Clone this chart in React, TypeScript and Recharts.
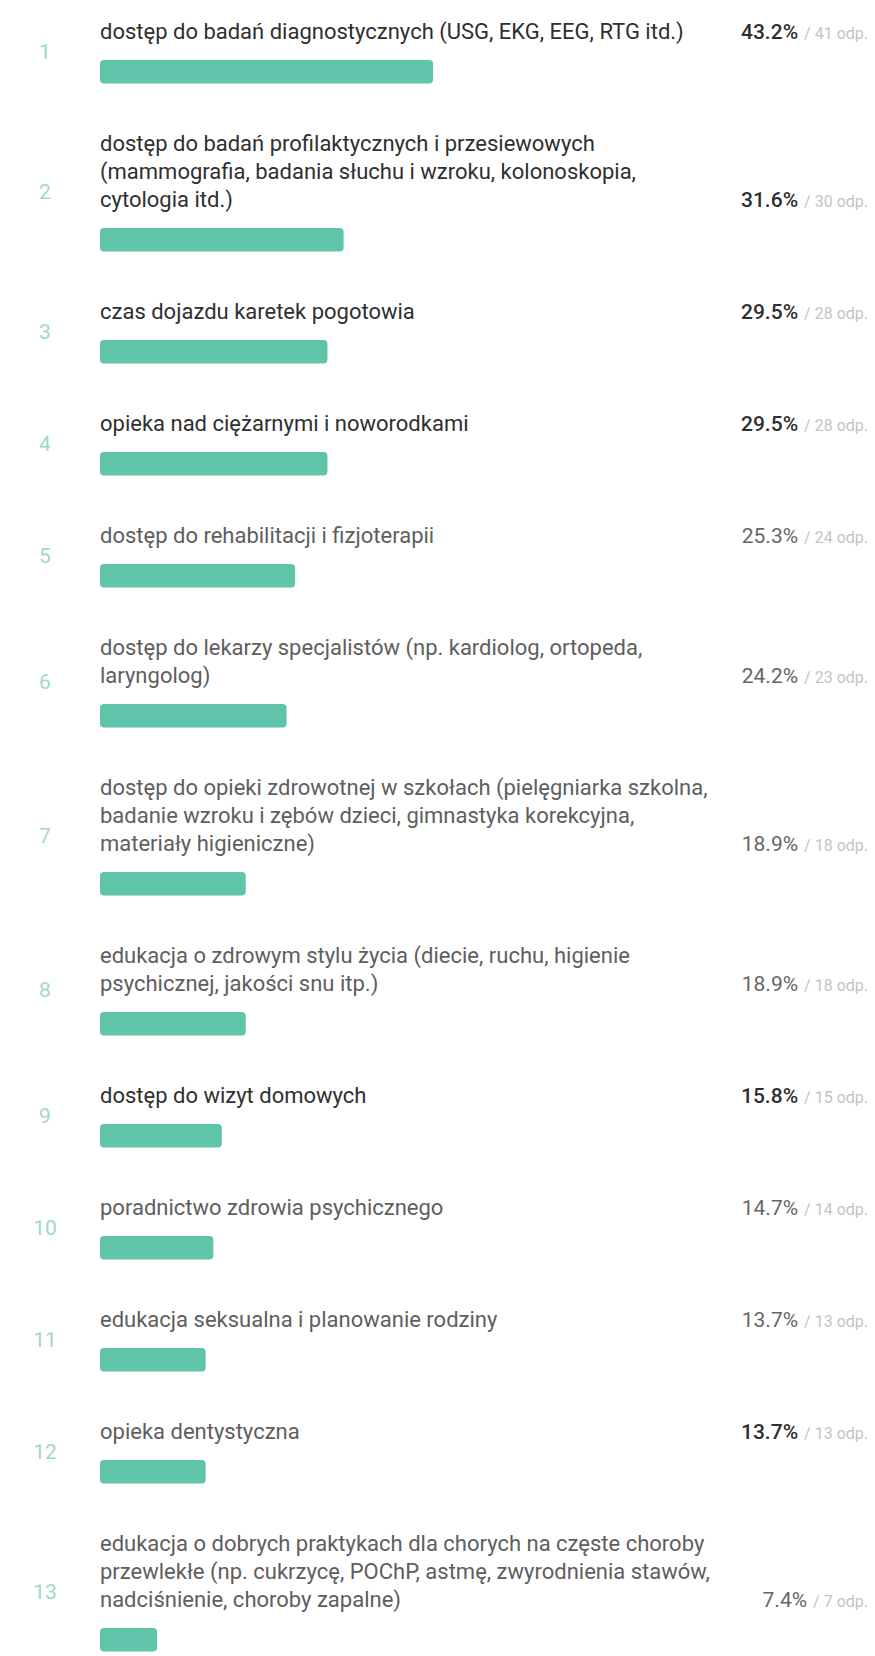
import React from 'react';
import { BarChart, Bar, XAxis, YAxis } from 'recharts';

// ---- data ----
const categories: string[] = [
  'dostęp do badań diagnostycznych (USG, EKG, EEG, RTG itd.)',
  'dostęp do badań profilaktycznych i przesiewowych\n(mammografia, badania słuchu i wzroku, kolonoskopia,\ncytologia itd.)',
  'czas dojazdu karetek pogotowia',
  'opieka nad ciężarnymi i noworodkami',
  'dostęp do rehabilitacji i fizjoterapii',
  'dostęp do lekarzy specjalistów (np. kardiolog, ortopeda,\nlaryngolog)',
  'dostęp do opieki zdrowotnej w szkołach (pielęgniarka szkolna,\nbadanie wzroku i zębów dzieci, gimnastyka korekcyjna,\nmateriały higieniczne)',
  'edukacja o zdrowym stylu życia (diecie, ruchu, higienie\npsychicznej, jakości snu itp.)',
  'dostęp do wizyt domowych',
  'poradnictwo zdrowia psychicznego',
  'edukacja seksualna i planowanie rodziny',
  'opieka dentystyczna',
  'edukacja o dobrych praktykach dla chorych na częste choroby\nprzewlekłe (np. cukrzycę, POChP, astmę, zwyrodnienia stawów,\nnadciśnienie, choroby zapalne)',
];
const percentages: number[] = [43.2, 31.6, 29.5, 29.5, 25.3, 24.2, 18.9, 18.9, 15.8, 14.7, 13.7, 13.7, 7.4];
const counts: number[] = [41, 30, 28, 28, 24, 23, 18, 18, 15, 14, 13, 13, 7];
const axisDomain: [number, number] = [0, 100];
const countSuffix = 'odp.';

// ---- styling (scan tone) ----
const darkLabelRows = new Set([0, 1, 2, 3, 8]);
const darkValueRows = new Set([0, 1, 2, 3, 8, 11]);

const TEAL = '#5fc4aa';
const LINE_H = 28;
const GAP = 13;
const BAR_H = 26;
const AFTER = 45;

function Row({ idx }: { idx: number }) {
  const lines = categories[idx].split('\n');
  const n = lines.length;
  const contentH = n * LINE_H + GAP + BAR_H;
  const last = idx === categories.length - 1;
  const data = [{ name: String(idx + 1), value: percentages[idx] }];
  return (
    <div style={{ position: 'relative', paddingLeft: 92, paddingBottom: last ? 0 : AFTER }}>
      <div
        style={{
          position: 'absolute',
          left: 20,
          top: 0,
          width: 34,
          height: contentH,
          display: 'flex',
          alignItems: 'center',
          justifyContent: 'center',
          fontSize: 21,
          color: '#9fd8ca',
        }}
      >
        {idx + 1}
      </div>
      <div
        style={{
          fontSize: 22,
          lineHeight: LINE_H + 'px',
          color: darkLabelRows.has(idx) ? '#2f2f2f' : '#5e5e5e',
          width: 640,
        }}
      >
        {lines.map((l, i) => (
          <div key={i} style={{ whiteSpace: 'nowrap' }}>{l}</div>
        ))}
      </div>
      <div
        style={{
          position: 'absolute',
          right: 0,
          top: (n - 1) * LINE_H,
          lineHeight: LINE_H + 'px',
          whiteSpace: 'nowrap',
        }}
      >
        <span
          style={{
            fontSize: 21,
            fontWeight: darkValueRows.has(idx) ? 500 : 400,
            color: darkValueRows.has(idx) ? '#2f2f2f' : '#666',
          }}
        >
          {percentages[idx].toFixed(1)}%
        </span>
        <span style={{ fontSize: 16, color: '#c4c4c4', marginLeft: 6 }}>
          / {counts[idx]} {countSuffix}
        </span>
      </div>
      <div style={{ marginTop: GAP, height: BAR_H }}>
        <BarChart
          width={771}
          height={BAR_H}
          data={data}
          layout="vertical"
          margin={{ top: 0, right: 0, bottom: 0, left: 0 }}
          barCategoryGap={0}
        >
          <XAxis type="number" domain={axisDomain} hide />
          <YAxis type="category" dataKey="name" hide />
          <Bar
            dataKey="value"
            fill={TEAL}
            radius={4}
            barSize={BAR_H}
            isAnimationActive={false}
          />
        </BarChart>
      </div>
    </div>
  );
}

export default function App() {
  return (
    <div
      style={{
        position: 'relative',
        width: 860,
        paddingTop: 10,
        fontFamily: 'Roboto, "Noto Sans", sans-serif',
        background: '#fff',
      }}
    >
      {categories.map((_, i) => (
        <Row key={i} idx={i} />
      ))}
    </div>
  );
}
